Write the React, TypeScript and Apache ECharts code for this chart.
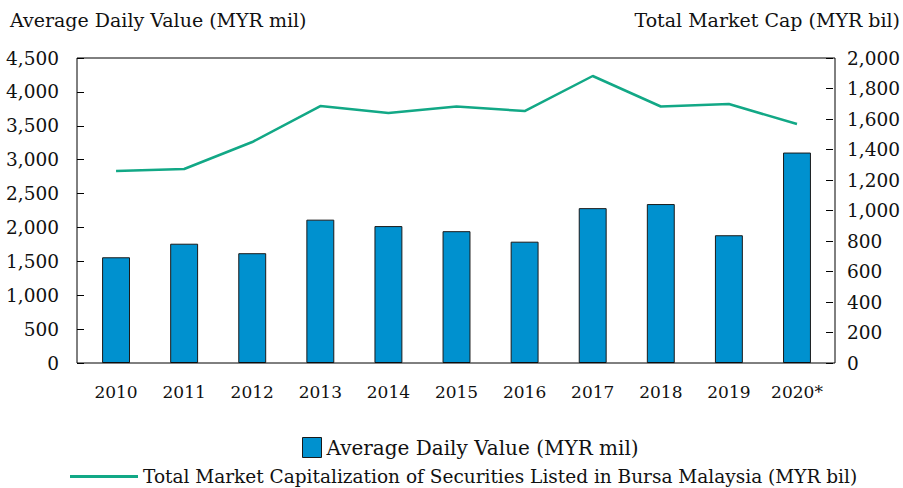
import React, { useEffect, useRef } from "react";
import * as echarts from "echarts";

const categories = ["2010", "2011", "2012", "2013", "2014", "2015", "2016", "2017", "2018", "2019", "2020*"];
const avgDailyValue = [1560, 1760, 1620, 2115, 2020, 1945, 1790, 2285, 2345, 1885, 3105];
const marketCap = [1259, 1272, 1449, 1685, 1639, 1682, 1652, 1882, 1682, 1698, 1567];
const leftTitle = "Average Daily Value (MYR mil)";
const rightTitle = "Total Market Cap (MYR bil)";
const barName = "Average Daily Value (MYR mil)";
const lineName = "Total Market Capitalization of Securities Listed in Bursa Malaysia (MYR bil)";

const FONT = "DejaVu Serif";

export default function App() {
  const ref = useRef<HTMLDivElement>(null);
  useEffect(() => {
    if (!ref.current) return;
    document.body.style.margin = "0";
    document.body.style.overflow = "hidden";
    const chart = echarts.init(ref.current, null, { renderer: "svg" });
    const fmt = (v: number) => v.toLocaleString("en-US");
    chart.setOption({
      animation: false,
      textStyle: { fontFamily: FONT },
      graphic: [
        { type: "text", left: 10, top: 10, style: { text: leftTitle, font: `19px '${FONT}'`, fill: "#111" } },
        { type: "text", right: 3, top: 10, style: { text: rightTitle, font: `19px '${FONT}'`, fill: "#111" } },
        {
          type: "rect", z: 10, silent: true,
          shape: { x: 77, y: 58, width: 758, height: 305 },
          style: { fill: "none", stroke: "#000", lineWidth: 1 },
        },
      ],
      grid: { left: 82, right: 70, top: 58, bottom: 125 },
      legend: [
        {
          data: [{ name: barName, icon: "rect" }], top: 437, left: 302, padding: 0,
          itemWidth: 19, itemHeight: 20, itemGap: 6,
          itemStyle: { borderColor: "#1a1a1a", borderWidth: 1 },
          textStyle: { fontFamily: FONT, fontSize: 20, color: "#111" },
        },
        {
          data: [{ name: lineName, icon: "rect" }], top: 467, left: 70, padding: 0,
          itemWidth: 68, itemHeight: 3, itemGap: 6,
          textStyle: { fontFamily: FONT, fontSize: 18.5, color: "#111" },
        },
      ],
      xAxis: {
        type: "category",
        data: categories,
        axisLine: { show: false },
        axisTick: { show: false },
        axisLabel: { color: "#111", fontSize: 17, fontFamily: FONT, margin: 20, interval: 0 },
      },
      yAxis: [
        {
          type: "value", min: 0, max: 4500, interval: 500, offset: 5,
          axisLine: { show: false },
          axisTick: { show: true, inside: true, length: 7, lineStyle: { color: "#000" } },
          splitLine: { show: false },
          axisLabel: { color: "#111", fontSize: 18.5, fontFamily: FONT, margin: 18, formatter: fmt },
        },
        {
          type: "value", min: 0, max: 2000, interval: 200, position: "right", offset: 2,
          axisLine: { show: false },
          axisTick: { show: true, inside: true, length: 7, lineStyle: { color: "#000" } },
          splitLine: { show: false },
          axisLabel: { color: "#111", fontSize: 18.5, fontFamily: FONT, margin: 14, formatter: fmt },
        },
      ],
      series: [
        {
          name: barName, type: "bar", data: avgDailyValue, yAxisIndex: 0,
          barWidth: "41%",
          itemStyle: { color: "#0091cf", borderColor: "#1a1a1a", borderWidth: 1 },
        },
        {
          name: lineName, type: "line", data: marketCap, yAxisIndex: 1,
          symbol: "none",
          lineStyle: { color: "#12a886", width: 2.5 },
          itemStyle: { color: "#12a886" },
        },
      ],
    });
    return () => chart.dispose();
  }, []);
  return <div ref={ref} style={{ width: 903, height: 488 }} />;
}
